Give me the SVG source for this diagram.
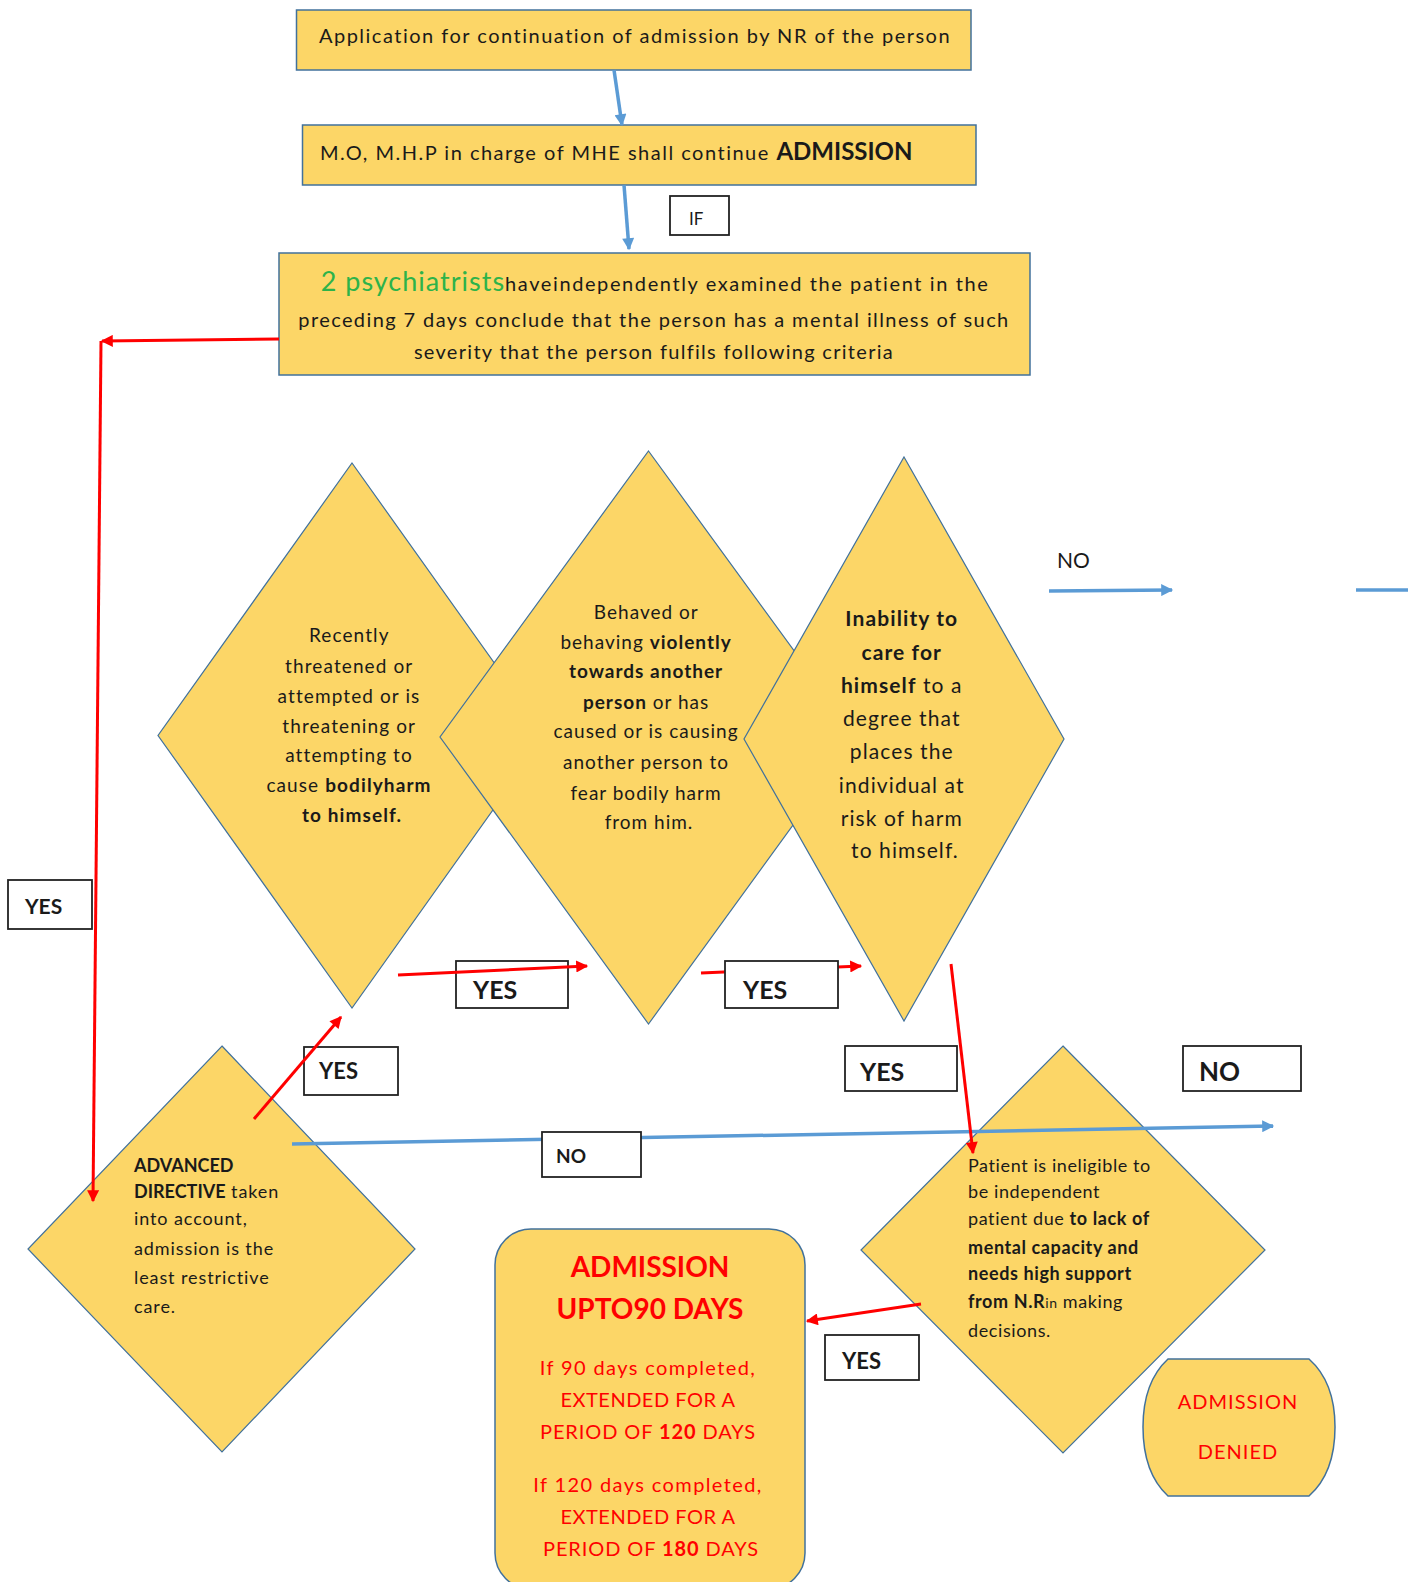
<svg xmlns="http://www.w3.org/2000/svg" width="1408" height="1582" viewBox="0 0 1408 1582">
<defs>
<style>
.node{fill:#FCD667;stroke:#41719C;stroke-width:1.5}
.dia{fill:#FCD667;stroke:#41719C;stroke-width:1.2}
.lbl{fill:#fff;stroke:#222;stroke-width:1.8}
.t{font-family:Lato,"Liberation Sans",sans-serif;fill:#1a1a1a}
.c{text-anchor:middle}
.b{font-weight:bold}
.r{fill:#FF0000}
.blue{fill:none;stroke:#5B9BD5;stroke-width:3.5}
.red{fill:none;stroke:#FF0000;stroke-width:3}
</style>
<marker id="ab" viewBox="0 0 10 10" refX="9" refY="5" markerWidth="14" markerHeight="12" markerUnits="userSpaceOnUse" orient="auto"><path d="M0,0 L10,5 L0,10 Z" fill="#5B9BD5"/></marker>
<marker id="ar" viewBox="0 0 10 10" refX="9" refY="5" markerWidth="14" markerHeight="12" markerUnits="userSpaceOnUse" orient="auto"><path d="M0,0 L10,5 L0,10 Z" fill="#FF0000"/></marker>
</defs>
<rect width="1408" height="1582" fill="#fff"/>

<g id="n-application">
<rect class="node" x="296.5" y="10" width="674.5" height="60"/>
<text class="t c" x="635" y="43" font-size="20" letter-spacing="1.5">Application for continuation of admission by NR of the person</text>
</g>
<g id="n-continue">
<rect class="node" x="302.5" y="125" width="673.5" height="60"/>
<text class="t" x="320" y="160" font-size="20" letter-spacing="1.5">M.O, M.H.P in charge of MHE shall continue <tspan class="b" font-size="24" letter-spacing="0">ADMISSION</tspan></text>
</g>
<g id="n-psychiatrists">
<rect class="node" x="279" y="253" width="751" height="122"/>
<text class="t c" x="655" y="291" font-size="20" letter-spacing="1.6"><tspan fill="#2DB34A" font-size="27" letter-spacing="1">2 psychiatrists</tspan>haveindependently examined the patient in the</text>
<text class="t c" x="654" y="327" font-size="20" letter-spacing="1.4">preceding 7 days conclude that the person has a mental illness of such</text>
<text class="t c" x="654" y="359" font-size="20" letter-spacing="1.3">severity that the person fulfils following criteria</text>
</g>

<g id="n-harm-self">
<polygon class="dia" points="352,463 546,735.5 352,1008 158,735.5"/>
<text class="t c" font-size="19" letter-spacing="1.1">
<tspan x="352" y="642">Recently</tspan>
<tspan x="352" y="673">threatened or</tspan>
<tspan x="352" y="703">attempted or is</tspan>
<tspan x="352" y="733">threatening or</tspan>
<tspan x="352" y="762">attempting to</tspan>
<tspan x="352" y="792">cause <tspan class="b">bodilyharm</tspan></tspan>
<tspan x="352" y="822" class="b">to himself.</tspan>
</text>
</g>
<g id="n-violent">
<polygon class="dia" points="648.5,451 857,737 648.5,1024 440,737"/>
<text class="t c" font-size="19" letter-spacing="1">
<tspan x="649" y="619">Behaved or</tspan>
<tspan x="649" y="649">behaving <tspan class="b">violently</tspan></tspan>
<tspan x="649" y="678" class="b">towards another</tspan>
<tspan x="649" y="709"><tspan class="b">person</tspan> or has</tspan>
<tspan x="649" y="738">caused or is causing</tspan>
<tspan x="649" y="769">another person to</tspan>
<tspan x="649" y="800">fear bodily harm</tspan>
<tspan x="649" y="829">from him.</tspan>
</text>
</g>
<g id="n-selfcare">
<polygon class="dia" points="904,457 1064,739 904,1021 744,739"/>
<text class="t c" font-size="21" letter-spacing="1.1">
<tspan x="905" y="626" class="b">Inability to</tspan>
<tspan x="905" y="660" class="b">care for</tspan>
<tspan x="905" y="693"><tspan class="b">himself</tspan> to a</tspan>
<tspan x="905" y="726">degree that</tspan>
<tspan x="905" y="759">places the</tspan>
<tspan x="905" y="793">individual at</tspan>
<tspan x="905" y="826">risk of harm</tspan>
<tspan x="905" y="858">to himself.</tspan>
</text>
</g>
<g id="n-advanced">
<polygon class="dia" points="222,1046 415,1249 222,1452 28,1249"/>
<text class="t" font-size="18" letter-spacing="0.9">
<tspan x="134" y="1172" class="b" letter-spacing="0">ADVANCED</tspan>
<tspan x="134" y="1198"><tspan class="b" letter-spacing="0">DIRECTIVE</tspan> taken</tspan>
<tspan x="134" y="1225">into account,</tspan>
<tspan x="134" y="1255">admission is the</tspan>
<tspan x="134" y="1284">least restrictive</tspan>
<tspan x="134" y="1313">care.</tspan>
</text>
</g>
<g id="n-ineligible">
<polygon class="dia" points="1063,1046 1265,1250 1063,1453 861,1250"/>
<text class="t" font-size="18" letter-spacing="0.6">
<tspan x="968" y="1172">Patient is ineligible to</tspan>
<tspan x="968" y="1198">be independent</tspan>
<tspan x="968" y="1225">patient due <tspan class="b">to lack of</tspan></tspan>
<tspan x="968" y="1254" class="b">mental capacity and</tspan>
<tspan x="968" y="1280" class="b">needs high support</tspan>
<tspan x="968" y="1308"><tspan class="b">from N.R</tspan><tspan font-size="14">in</tspan> making</tspan>
<tspan x="968" y="1337">decisions.</tspan>
</text>
</g>
<g id="n-admission">
<rect class="node" x="495" y="1229" width="310" height="360" rx="36"/>
<text class="t c r b" font-size="28"><tspan x="650" y="1277">ADMISSION</tspan><tspan x="650" y="1319">UPTO90 DAYS</tspan></text>
<text class="t c r" font-size="20" letter-spacing="0.9">
<tspan x="651" y="1375" letter-spacing="1.4">If 90 days completed,</tspan>
<tspan x="651" y="1407" letter-spacing="0.5">EXTENDED FOR A</tspan>
<tspan x="651" y="1439">PERIOD OF <tspan class="b">120</tspan> DAYS</tspan>
<tspan x="651" y="1492" letter-spacing="1.4">If 120 days completed,</tspan>
<tspan x="651" y="1524" letter-spacing="0.5">EXTENDED FOR A</tspan>
<tspan x="651" y="1556">PERIOD OF <tspan class="b">180</tspan> DAYS</tspan>
</text>
</g>
<g id="n-denied">
<path class="node" d="M1168,1359 L1309,1359 Q1335,1382 1335,1427 Q1335,1473 1309,1496 L1168,1496 Q1143,1473 1143,1427 Q1143,1382 1168,1359 Z"/>
<text class="t c r" font-size="20" letter-spacing="1"><tspan x="1238" y="1409">ADMISSION</tspan><tspan x="1238" y="1459">DENIED</tspan></text>
</g>

<g id="l-yes-1"><rect class="lbl" x="456" y="961" width="112" height="47"/><text class="t b" x="473" y="999" font-size="25">YES</text></g>
<g id="l-yes-adv"><rect class="lbl" x="304" y="1047" width="94" height="48"/><text class="t b" x="319" y="1079" font-size="22">YES</text></g>

<g id="connectors">
<line class="blue" x1="614" y1="70" x2="622" y2="125" marker-end="url(#ab)"/>
<line class="blue" x1="624" y1="185" x2="629" y2="249" marker-end="url(#ab)"/>
<line class="blue" x1="1049" y1="591" x2="1172" y2="590" marker-end="url(#ab)"/>
<line class="blue" x1="1356" y1="590" x2="1408" y2="590"/>
<line class="blue" x1="292" y1="1144" x2="1273" y2="1126" marker-end="url(#ab)"/>
<line class="red" x1="279" y1="339" x2="102" y2="341" marker-end="url(#ar)"/>
<line class="red" x1="101" y1="341" x2="93" y2="1201" marker-end="url(#ar)"/>
<line class="red" x1="398" y1="975" x2="587" y2="966" marker-end="url(#ar)"/>
<line class="red" x1="701" y1="973" x2="861" y2="966" marker-end="url(#ar)"/>
<line class="red" x1="951" y1="964" x2="973" y2="1153" marker-end="url(#ar)"/>
<line class="red" x1="254" y1="1119" x2="341" y2="1017" marker-end="url(#ar)"/>
<line class="red" x1="921" y1="1304" x2="807" y2="1321" marker-end="url(#ar)"/>
</g>

<g id="l-if"><rect class="lbl" x="670" y="196" width="59" height="39"/><text class="t" x="689" y="225" font-size="17">IF</text></g>
<g id="l-yes-left"><rect class="lbl" x="8" y="880" width="84" height="49"/><text class="t b" x="25" y="914" font-size="21">YES</text></g>
<g id="l-yes-2"><rect class="lbl" x="725" y="961" width="113" height="47"/><text class="t b" x="743" y="999" font-size="25">YES</text></g>
<g id="l-yes-3"><rect class="lbl" x="845" y="1046" width="112" height="45"/><text class="t b" x="860" y="1081" font-size="25">YES</text></g>
<g id="l-no-right"><rect class="lbl" x="1183" y="1046" width="118" height="45"/><text class="t b" x="1199" y="1081" font-size="26">NO</text></g>
<g id="l-no-mid"><rect class="lbl" x="542" y="1132" width="99" height="45"/><text class="t b" x="556" y="1163" font-size="19">NO</text></g>
<g id="l-yes-bottom"><rect class="lbl" x="825" y="1335" width="94" height="45"/><text class="t b" x="842" y="1369" font-size="22">YES</text></g>
<g id="l-no-top"><text class="t" x="1057" y="568" font-size="21">NO</text></g>
</svg>
